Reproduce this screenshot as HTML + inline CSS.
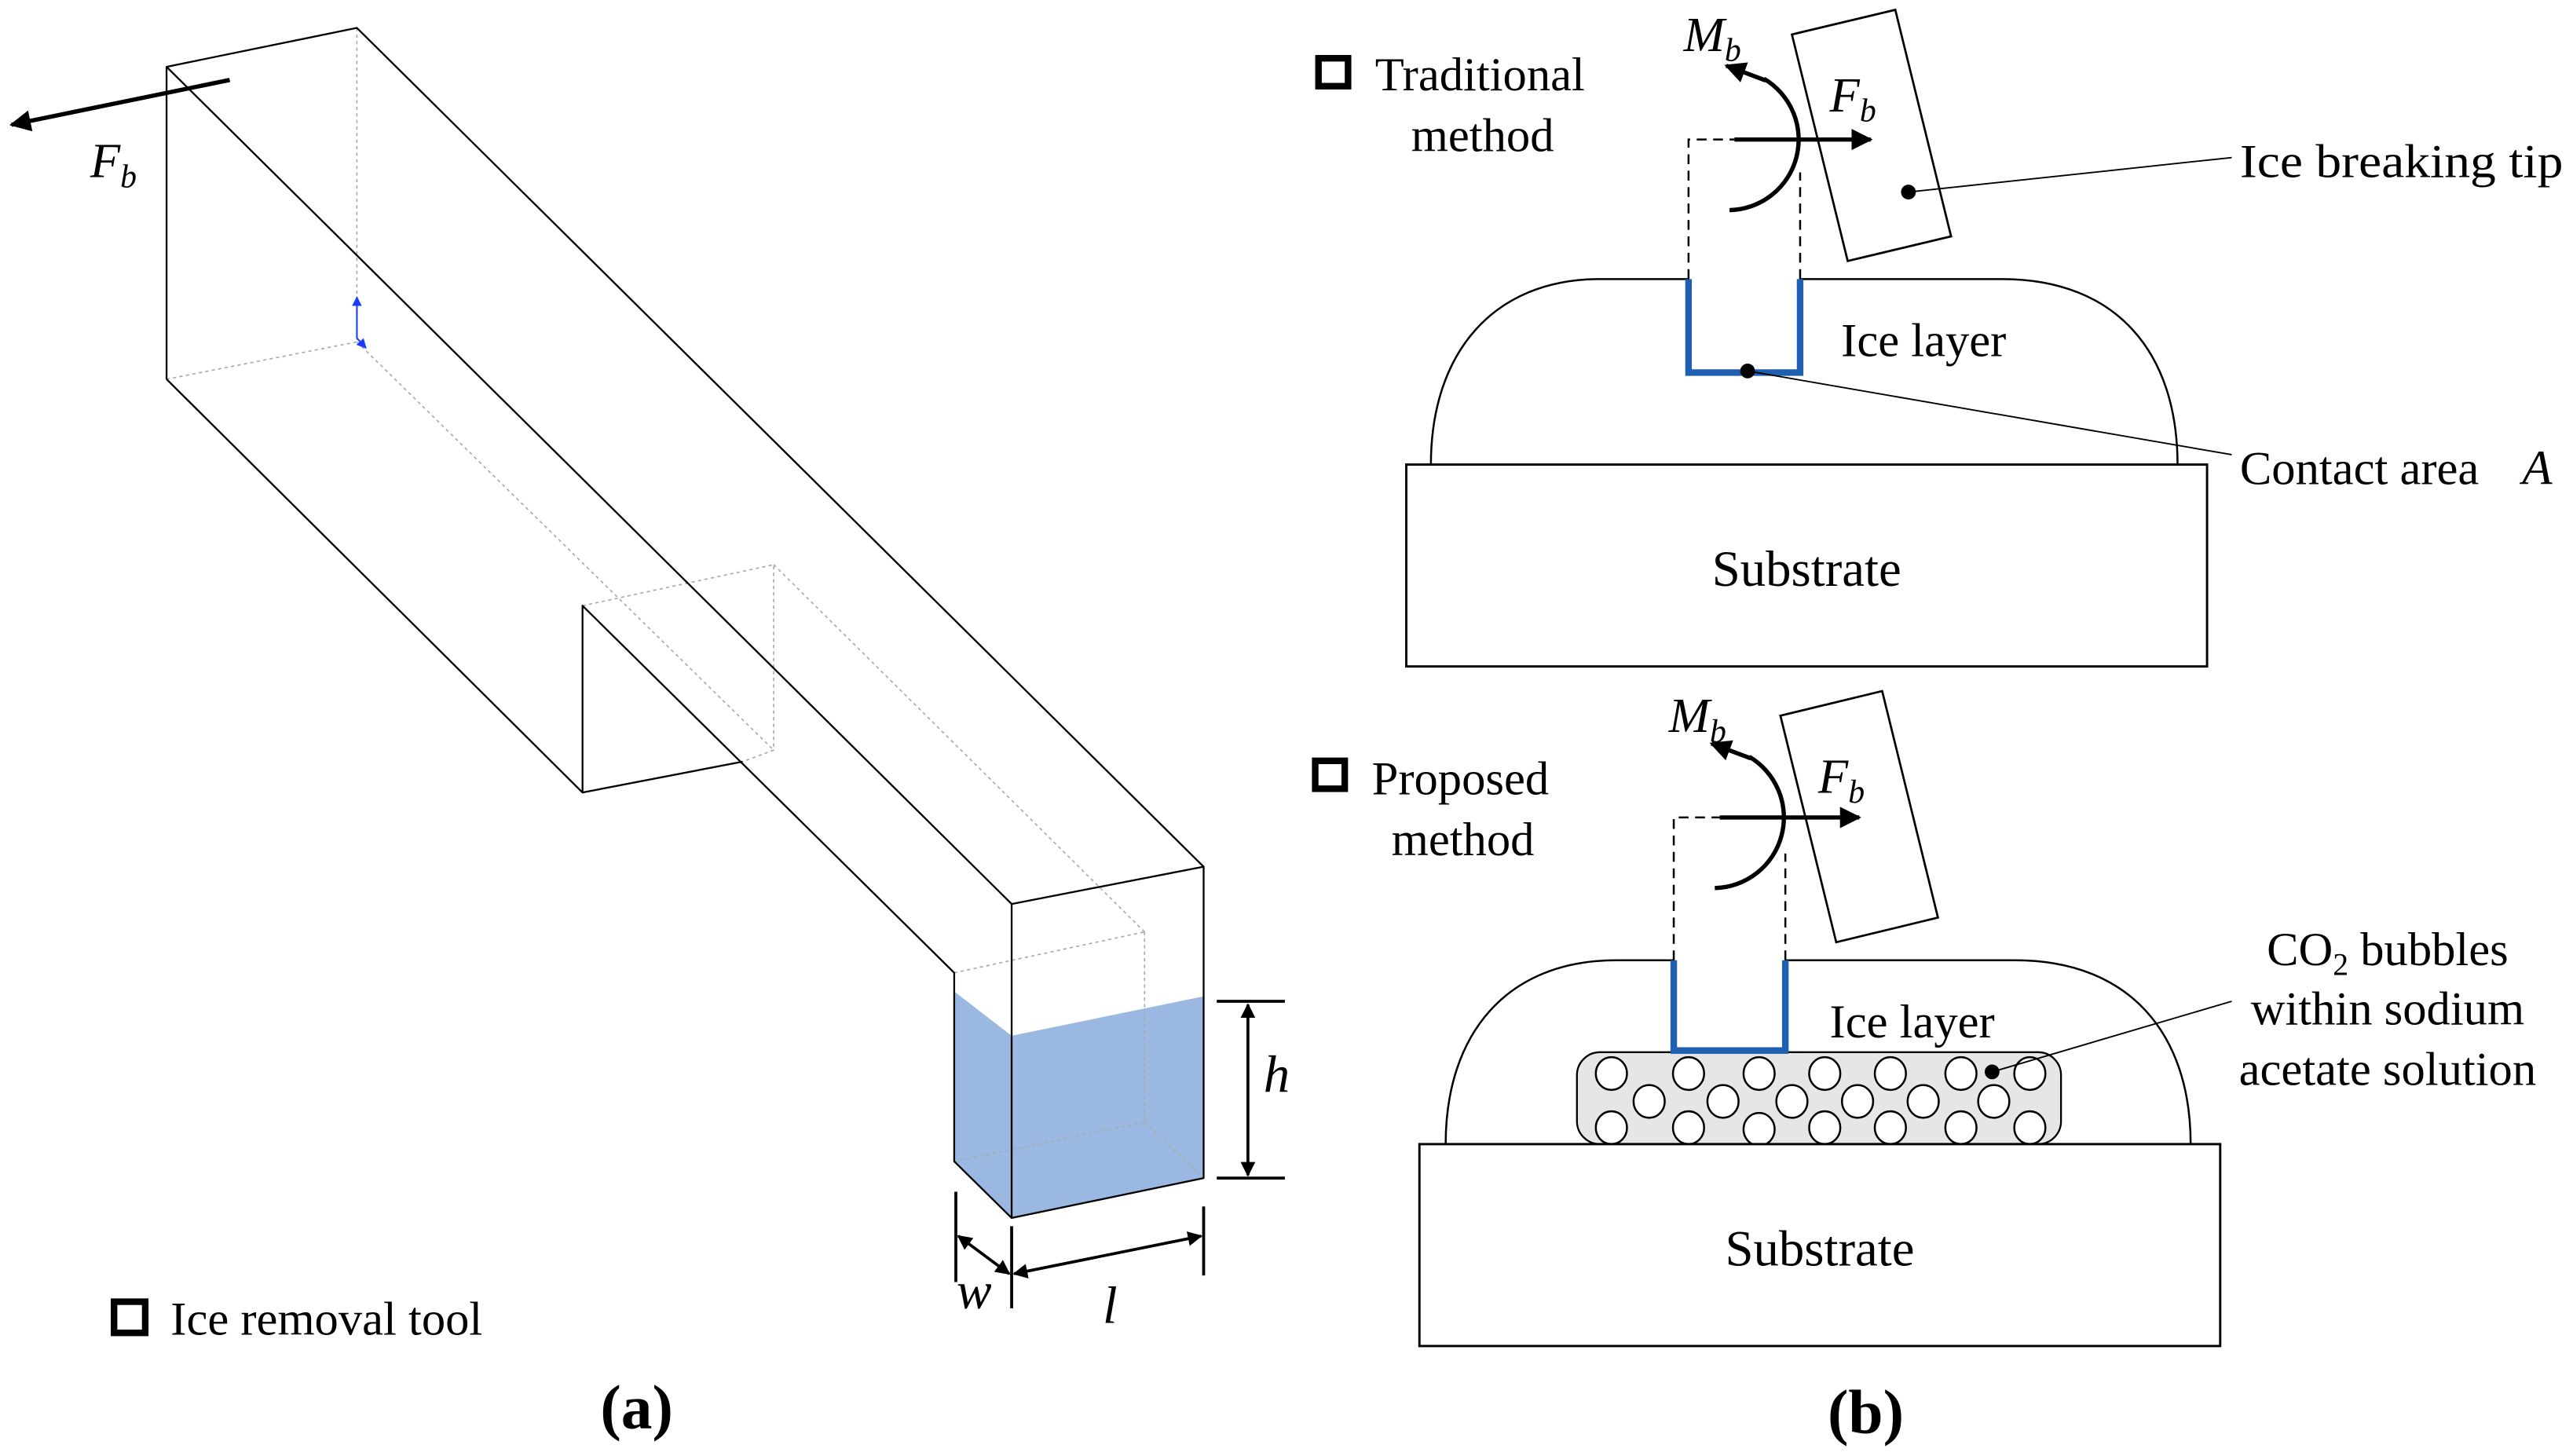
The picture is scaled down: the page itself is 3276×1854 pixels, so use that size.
<!DOCTYPE html>
<html><head><meta charset="utf-8"><style>
html,body{margin:0;padding:0;background:#fff;}
svg{display:block;}
text{font-family:"Liberation Serif","Times New Roman",serif;fill:#000;}
.it{font-style:italic;}
</style></head><body>
<svg width="3276" height="1854" viewBox="0 0 1568 887" preserveAspectRatio="none" xmlns="http://www.w3.org/2000/svg">
<defs>
<marker id="ah" viewBox="0 0 10 10" refX="9" refY="5" markerWidth="5" markerHeight="5" orient="auto-start-reverse" markerUnits="strokeWidth"><path d="M0,0 L10,5 L0,10 z" fill="#000"/></marker>
<marker id="ahb" viewBox="0 0 10 10" refX="9" refY="5" markerWidth="6" markerHeight="6" orient="auto-start-reverse" markerUnits="strokeWidth"><path d="M0,0 L10,5 L0,10 z" fill="#1a3cff"/></marker>
</defs>
<!-- Panel (a) -->
<polygon points="581.5,604 616.5,631 733.5,607 733.5,717.7 616.5,742 581.5,707.5" fill="#9ab8e2"/>
<g stroke="#aaa" stroke-width="0.8" stroke-dasharray="2,2" fill="none">
<line x1="217.5" y1="17" x2="217.5" y2="208.3"/>
<line x1="101.5" y1="231" x2="217.5" y2="208.3"/>
<line x1="217.5" y1="208.3" x2="471.5" y2="457"/>
<polyline points="355,369 471.5,344 471.5,457 452.5,464"/>
<line x1="471.5" y1="344" x2="697.5" y2="567.7"/>
<line x1="581.5" y1="592.6" x2="697.5" y2="567.7"/>
<line x1="697.5" y1="567.7" x2="697.5" y2="683.7"/>
<line x1="581.5" y1="707.5" x2="697.5" y2="683.7"/>
<line x1="697.5" y1="683.7" x2="733.5" y2="717.7"/>
</g>
<g stroke="#000" stroke-width="1.1" fill="none" stroke-linejoin="round">
<polyline points="101.5,231 101.5,40.7 217.5,17 733.5,528 616.5,550.7 101.5,40.7"/>
<polyline points="616.5,550.7 616.5,742 733.5,717.7 733.5,528"/>
<polyline points="101.5,231 355,482.8 355,369 581.5,592.6 581.5,707.5 616.5,742"/>
<line x1="355" y1="482.8" x2="452.5" y2="464"/>
</g>
<line x1="217.5" y1="206" x2="217.5" y2="181" stroke="#1a3cff" stroke-width="1" marker-end="url(#ahb)"/>
<line x1="217.5" y1="206" x2="223" y2="212" stroke="#1a3cff" stroke-width="1" marker-end="url(#ahb)"/>
<!-- F_b arrow -->
<line x1="140" y1="48.7" x2="7" y2="76" stroke="#000" stroke-width="2.6" marker-end="url(#ah)"/>
<text x="55" y="108" font-size="30" class="it">F<tspan font-size="20" dy="6">b</tspan></text>
<!-- dimensions -->
<g stroke="#000" stroke-width="1.8" fill="none">
<line x1="741.5" y1="610" x2="783" y2="610"/>
<line x1="741.5" y1="717.7" x2="783" y2="717.7"/>
<line x1="760.5" y1="612" x2="760.5" y2="716" marker-start="url(#ah)" marker-end="url(#ah)"/>
<line x1="582.5" y1="726" x2="582.5" y2="781"/>
<line x1="616.5" y1="747" x2="616.5" y2="797"/>
<line x1="733.5" y1="735" x2="733.5" y2="777"/>
<line x1="584" y1="753" x2="615" y2="776" marker-start="url(#ah)" marker-end="url(#ah)"/>
<line x1="618" y1="776" x2="732" y2="753" marker-start="url(#ah)" marker-end="url(#ah)"/>
</g>
<text x="770" y="665" font-size="32" class="it">h</text>
<text x="583" y="797" font-size="32" class="it">w</text>
<text x="672" y="806" font-size="32" class="it">l</text>
<rect x="69.5" y="793" width="19" height="19" fill="none" stroke="#000" stroke-width="4"/>
<text x="104" y="813" font-size="29">Ice removal tool</text>
<text x="388" y="870" font-size="38" font-weight="bold" text-anchor="middle">(a)</text>

<!-- Panel (b) traditional -->
<rect x="803.5" y="35.5" width="18" height="17" fill="none" stroke="#000" stroke-width="4"/>
<text x="838" y="55" font-size="29">Traditional</text>
<text x="860" y="92" font-size="29">method</text>
<path d="M872,283 C872,215 910,170 975,170 L1029,170 M1097,170 L1220,170 C1290,170 1327,215 1327,283" fill="none" stroke="#000" stroke-width="1.2"/>
<rect x="857" y="283" width="488" height="123" fill="#fff" stroke="#000" stroke-width="1.4"/>
<text x="1101" y="357" font-size="31" text-anchor="middle">Substrate</text>
<polyline points="1029,170 1029,227 1097,227 1097,170" fill="none" stroke="#1f5fb0" stroke-width="4"/>
<g stroke="#000" stroke-width="1.2" stroke-dasharray="6,4" fill="none">
<polyline points="1029,170 1029,85 1057,85"/>
<line x1="1097" y1="170" x2="1097" y2="105"/>
</g>
<line x1="1057" y1="85" x2="1140" y2="85" stroke="#000" stroke-width="2.6" marker-end="url(#ah)"/>
<path d="M1054,128 A43,43 0 0 0 1075,48" fill="none" stroke="#000" stroke-width="2.6"/>
<line x1="1076" y1="49" x2="1052" y2="40" stroke="#000" stroke-width="2.6" marker-end="url(#ah)"/>
<text x="1026" y="31" font-size="30" class="it">M<tspan font-size="20" dy="6">b</tspan></text>
<text x="1115" y="68" font-size="30" class="it">F<tspan font-size="20" dy="6">b</tspan></text>
<polygon points="1092,21 1155,6 1189,144 1126,159" fill="none" stroke="#000" stroke-width="1.3"/>
<line x1="1163" y1="117" x2="1360" y2="96" stroke="#000" stroke-width="0.9"/>
<circle cx="1163" cy="117" r="4.5" fill="#000"/>
<text x="1365" y="108" font-size="29" textLength="197" lengthAdjust="spacingAndGlyphs">Ice breaking tip</text>
<text x="1122" y="217" font-size="29">Ice layer</text>
<line x1="1065" y1="226" x2="1360" y2="277" stroke="#000" stroke-width="0.9"/>
<circle cx="1065" cy="226" r="4.5" fill="#000"/>
<text x="1365" y="295" font-size="29">Contact area</text>
<text x="1537" y="295" font-size="30" class="it">A</text>

<!-- Panel (b) proposed -->
<rect x="801.5" y="463.5" width="18" height="17" fill="none" stroke="#000" stroke-width="4"/>
<text x="836" y="484" font-size="29">Proposed</text>
<text x="848" y="521" font-size="29">method</text>
<path d="M881,697 C881,630 918,585 985,585 L1020,585 M1088,585 L1228,585 C1298,585 1335,630 1335,697" fill="none" stroke="#000" stroke-width="1.2"/>
<rect x="961" y="641" width="295" height="56" rx="14" fill="#e6e6e6" stroke="#000" stroke-width="1.1"/>
<g fill="#fff" stroke="#000" stroke-width="1.2">
<ellipse cx="982" cy="654" rx="9.5" ry="10"/><ellipse cx="1029" cy="654" rx="9.5" ry="10"/><ellipse cx="1072" cy="654" rx="9.5" ry="10"/><ellipse cx="1112" cy="654" rx="9.5" ry="10"/><ellipse cx="1152" cy="654" rx="9.5" ry="10"/><ellipse cx="1195" cy="654" rx="9.5" ry="10"/><ellipse cx="1237" cy="654" rx="9.5" ry="10"/>
<ellipse cx="1005" cy="671" rx="9.5" ry="10"/><ellipse cx="1050" cy="671" rx="9.5" ry="10"/><ellipse cx="1092" cy="671" rx="9.5" ry="10"/><ellipse cx="1132" cy="671" rx="9.5" ry="10"/><ellipse cx="1172" cy="671" rx="9.5" ry="10"/><ellipse cx="1215" cy="671" rx="9.5" ry="10"/>
<ellipse cx="982" cy="687" rx="9.5" ry="10"/><ellipse cx="1029" cy="687" rx="9.5" ry="10"/><ellipse cx="1072" cy="688" rx="9.5" ry="10"/><ellipse cx="1112" cy="687" rx="9.5" ry="10"/><ellipse cx="1152" cy="687" rx="9.5" ry="10"/><ellipse cx="1195" cy="687" rx="9.5" ry="10"/><ellipse cx="1237" cy="687" rx="9.5" ry="10"/>
</g>
<rect x="865" y="697" width="488" height="123" fill="#fff" stroke="#000" stroke-width="1.4"/>
<text x="1109" y="771" font-size="31" text-anchor="middle">Substrate</text>
<polyline points="1020,585 1020,640 1088,640 1088,585" fill="none" stroke="#1f5fb0" stroke-width="4"/>
<g stroke="#000" stroke-width="1.2" stroke-dasharray="6,4" fill="none">
<polyline points="1020,585 1020,498 1048,498"/>
<line x1="1088" y1="585" x2="1088" y2="520"/>
</g>
<line x1="1048" y1="498" x2="1133" y2="498" stroke="#000" stroke-width="2.6" marker-end="url(#ah)"/>
<path d="M1045,541 A43,43 0 0 0 1066,461" fill="none" stroke="#000" stroke-width="2.6"/>
<line x1="1067" y1="462" x2="1043" y2="453" stroke="#000" stroke-width="2.6" marker-end="url(#ah)"/>
<text x="1017" y="446" font-size="30" class="it">M<tspan font-size="20" dy="6">b</tspan></text>
<text x="1108" y="483" font-size="30" class="it">F<tspan font-size="20" dy="6">b</tspan></text>
<polygon points="1085,436 1147,421 1181,559 1119,574" fill="none" stroke="#000" stroke-width="1.3"/>
<text x="1115" y="632" font-size="29">Ice layer</text>
<line x1="1214" y1="653" x2="1360" y2="610" stroke="#000" stroke-width="0.9"/>
<circle cx="1214" cy="653" r="4.5" fill="#000"/>
<text x="1455" y="588" font-size="29" text-anchor="middle">CO<tspan font-size="19" dy="6">2</tspan><tspan dy="-6"> bubbles</tspan></text>
<text x="1455" y="624" font-size="29" text-anchor="middle">within sodium</text>
<text x="1455" y="661" font-size="29" text-anchor="middle">acetate solution</text>
<text x="1137" y="873" font-size="38" font-weight="bold" text-anchor="middle">(b)</text>
</svg>
</body></html>
